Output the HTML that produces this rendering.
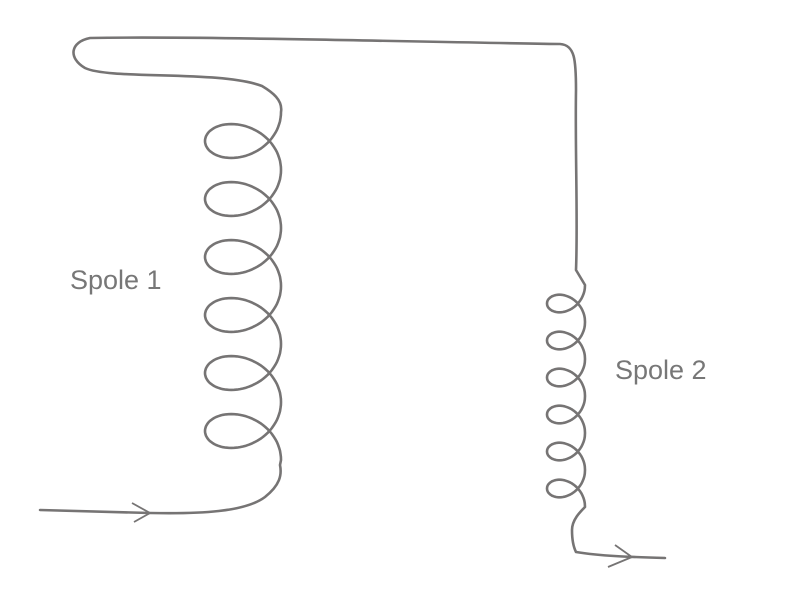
<!DOCTYPE html>
<html><head><meta charset="utf-8"><style>
html,body{margin:0;padding:0;background:#fff;}
svg{display:block;}
text{font-family:"Liberation Sans",sans-serif;fill:#777;}
</style></head><body>
<svg id="s" width="786" height="607" viewBox="0 0 786 607">
<path id="wire" fill="none" stroke="#767474" stroke-width="2.6" stroke-linecap="round" stroke-linejoin="round"/>
<path d="M132,503 L150,513 L134,522" fill="none" stroke="#767474" stroke-width="1.8"/>
<path d="M615,545 L632,557 L608,567" fill="none" stroke="#767474" stroke-width="1.8"/>
<text x="70" y="289" font-size="27">Spole 1</text>
<text x="615" y="379" font-size="27">Spole 2</text>
</svg>
<script>
function coil(xc,y0,rx,ry,p,n){
  var pts=[];
  for(var i=0;i<=n*80;i++){
    var t=i/80*2*Math.PI;
    pts.push((xc+rx*Math.cos(t)).toFixed(1)+","+(y0+p*t/(2*Math.PI)+ry*Math.sin(t)).toFixed(1));
  }
  return pts;
}
var d="M40,510 L150,513 C200,514 245,512 265,497 C280,485 282,475 280,465 ";
var c1=coil(243,112,38,30,58,6);
var tail1=c1.slice().reverse();
d+="L"+tail1.join(" L")+" ";
d+="C283,100 272,92 262,86 C220,70 110,80 85,68 C68,58 70,42 90,38 C200,36 420,42 560,44 C575,45 576,60 576,90 C575,150 578,220 576,270 ";
var c2=coil(566,285,19,17,37,6);
d+="L"+c2.join(" L")+" ";
d+="C580,512 572,520 572,530 C572,540 574,548 576,552 C600,556 630,557 665,558";
document.getElementById('wire').setAttribute('d',d);
</script>
</body></html>
